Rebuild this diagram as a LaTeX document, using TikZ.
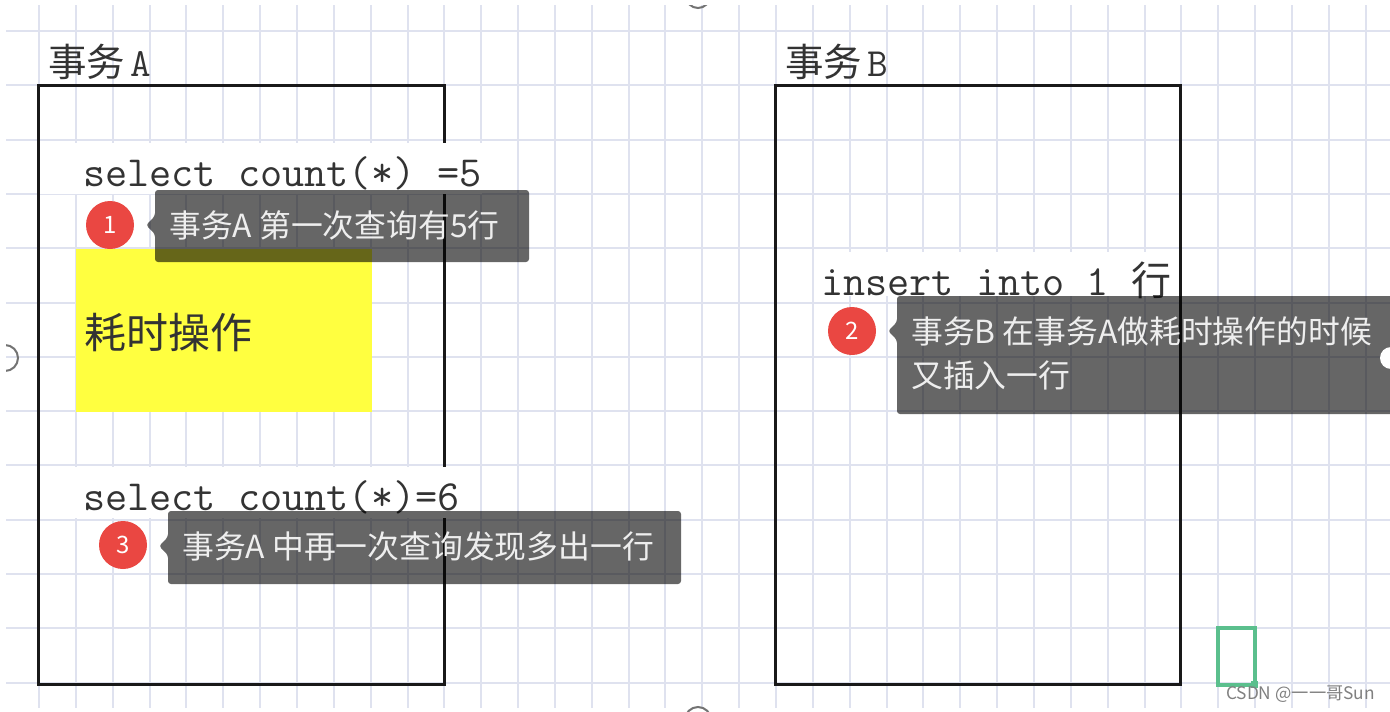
\documentclass[tikz,border=0pt]{standalone}
\usepackage{fontspec}
\setmainfont{Liberation Serif}
\newfontfamily\cjkfont{Noto Sans CJK SC}
\newfontfamily\lmm{Latin Modern Mono}
\definecolor{gridc}{HTML}{DFE2EF}
\definecolor{inkc}{HTML}{333333}
\definecolor{tipred}{HTML}{EA4742}
\definecolor{notey}{HTML}{FFFF40}
\definecolor{greenc}{HTML}{5BBF8D}
\definecolor{tiptext}{HTML}{EEEEEE}
\tikzset{
  x=1pt,y=-1pt,
  gridline/.style={draw=gridc,line width=2pt},
  framebox/.style={draw=black!90,line width=3pt},
  codetext/.style={anchor=base west,inner sep=0pt,text=inkc,font=\fontsize{43}{43}\selectfont\lmm},
  headtext/.style={anchor=base west,inner sep=0pt,text=inkc,font=\fontsize{38.5}{38.5}\selectfont\cjkfont},
  tipbody/.style={fill=black,fill opacity=.6,draw=none,rounded corners=3pt},
  tiptxt/.style={anchor=west,inner sep=0pt,text=tiptext,font=\fontsize{31.8}{31.8}\selectfont\cjkfont},
  badge/.style={circle,fill=tipred,minimum size=48pt,inner sep=0pt,text=white,font=\fontsize{24}{24}\selectfont\cjkfont},
  handle/.style={draw=black!55,line width=2pt},
}
\begin{document}
\begin{tikzpicture}
\useasboundingbox (0,0) rectangle (1390,712);
\clip (0,0) rectangle (1390,712);
\fill[white] (0,0) rectangle (1390,712);
% grid
\foreach \k in {0,...,36}{\draw[gridline] ({39+36.85*\k},5) -- ({39+36.85*\k},708);}
\foreach \k in {0,...,12}{\draw[gridline] (6,{31+54.3*\k}) -- (1390,{31+54.3*\k});}
% frames
\draw[framebox] (38,85.5) rectangle (444,684);
\draw[framebox] (775,85.5) rectangle (1180,684);
% white text strips
\fill[white] (40,143) rectangle (482,194);
\fill[white] (40,467) rectangle (462,518);
\fill[white] (815,252) rectangle (1178,296);
% yellow note
\fill[notey] (76,249) rectangle (372,412);
% texts
\node[headtext] (titleA) at (48,76) {事务\hspace{5pt}{\fontsize{40}{40}\selectfont\lmm A}};
\node[headtext] (titleB) at (785,76) {事务\hspace{5pt}{\fontsize{40}{40}\selectfont\lmm B}};
\node[codetext] (qone) at (83,186) {select count(*) =5};
\node[codetext] (qtwo) at (83,510) {select count(*)=6};
\node[codetext] (ins) at (821,295) {insert into 1 {\cjkfont\fontsize{40}{40}\selectfont 行}};
\node[headtext,anchor=west,font=\fontsize{42}{42}\selectfont\cjkfont] (slow) at (84,333) {耗时操作};
% green box
\draw[greenc,line width=4.5pt] (1218,628) rectangle (1255,685);
\fill[greenc] (1251,681) rectangle (1258,688);
% edge handles
\begin{scope}
\clip (6,5) rectangle (1390,712);
\draw[handle] (5,358) circle (13);
\draw[handle] (698,-4) circle (12);
\draw[handle] (698,720) circle (13);
\end{scope}
% tooltips
\path[tipbody] (155,190) -- (529,190) -- (529,262) -- (155,262) -- (155,234) -- (146,225) -- (155,216) -- cycle;
\path[tipbody] (897,296) -- (1394,296) -- (1394,414) -- (897,414) -- (897,340) -- (888,331) -- (897,322) -- cycle;
\path[tipbody] (168,511) -- (681,511) -- (681,584) -- (168,584) -- (168,555) -- (159,546) -- (168,537) -- cycle;
\fill[white] (1391,358) circle (11);
\node[badge] (b1) at (110,225) {1};
\node[badge] (b2) at (852,331) {2};
\node[badge] (b3) at (123,545) {3};
\node[tiptxt] (t1) at (169,225) {事务A 第一次查询有5行};
\node[tiptxt] (t2a) at (911,331) {事务B 在事务A做耗时操作的时候};
\node[tiptxt] (t2b) at (911,375) {又插入一行};
\node[tiptxt] (t3) at (182,546) {事务A 中再一次查询发现多出一行};
\node[anchor=west,inner sep=0pt,text=black!50,font=\fontsize{17.3}{17.3}\selectfont\cjkfont] (mark) at (1226,694) {CSDN @一一哥Sun};
\end{tikzpicture}
\end{document}
